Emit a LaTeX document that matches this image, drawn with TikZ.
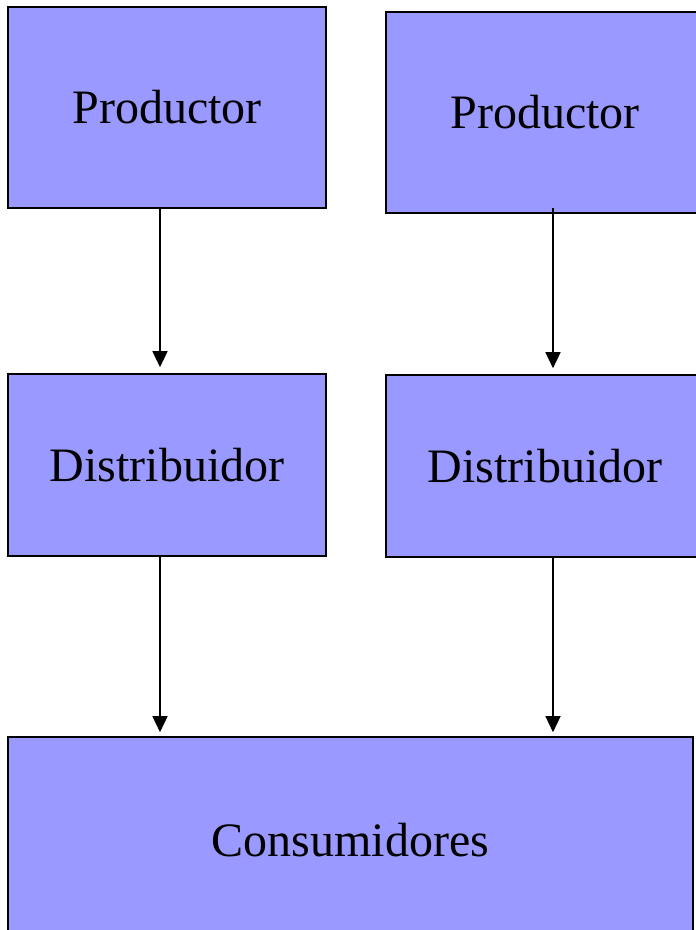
\documentclass[tikz,border=0pt]{standalone}
\usepackage{fontspec}
\setmainfont{Liberation Serif}
\usetikzlibrary{arrows.meta}
\definecolor{boxblue}{HTML}{9999FF}
\begin{document}
\begin{tikzpicture}[x=1pt,y=-1pt,
  block/.style={draw=black,line width=1.6pt,fill=boxblue,font=\fontsize{48}{52}\selectfont},
  flow/.style={draw=black,line width=1.4pt,-{Triangle[length=16pt,width=15pt]}}]
\useasboundingbox (0,0) rectangle (696,930);
% boxes
\node[block,minimum width=318pt,minimum height=201pt] (p1) at (167,107.5) {Productor};
\node[block,minimum width=318pt,minimum height=201pt] (p2) at (545,112.5) {Productor};
\node[block,minimum width=318pt,minimum height=182pt] (d1) at (167,465) {Distribuidor};
\node[block,minimum width=318pt,minimum height=182pt] (d2) at (545,466) {Distribuidor};
\node[block,minimum width=685pt,minimum height=206pt] (c) at (350.5,840) {Consumidores};
% arrow ends
\coordinate (a1s) at (p1.south -| 160,0);
\coordinate (a1e) at ([yshift=6pt]d1.north -| 160,0);
\coordinate (a2s) at ([yshift=6pt]p2.south -| 553,0);
\coordinate (a2e) at ([yshift=6pt]d2.north -| 553,0);
\coordinate (a3s) at (d1.south -| 160,0);
\coordinate (a3e) at ([yshift=4pt]c.north -| 160,0);
\coordinate (a4s) at (d2.south -| 553,0);
\coordinate (a4e) at ([yshift=4pt]c.north -| 553,0);
\draw[flow] (a1s) -- (a1e);
\draw[flow] (a2s) -- (a2e);
\draw[flow] (a3s) -- (a3e);
\draw[flow] (a4s) -- (a4e);
\end{tikzpicture}
\end{document}
